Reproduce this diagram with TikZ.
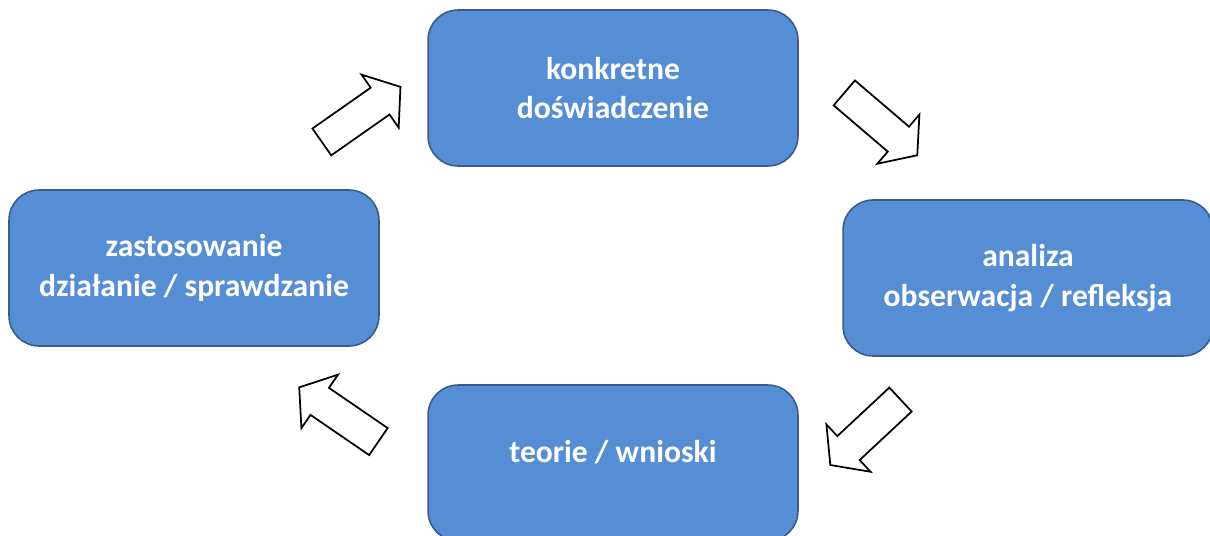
\documentclass[tikz,border=0pt]{standalone}
\usepackage{fontspec}
\setmainfont{Carlito}
\usetikzlibrary{shapes.arrows}

\definecolor{boxblue}{RGB}{85,142,213}
\definecolor{boxline}{RGB}{56,93,138}

\tikzset{
  stage/.style={draw=boxline, line width=0.9pt, fill=boxblue, rounded corners=0.6cm,
    minimum width=7.4cm, minimum height=3.12cm, inner sep=0pt, align=center,
    text=white, font=\fontsize{18}{22.7}\selectfont\bfseries},
  cyclearrow/.style={single arrow, draw=black, line width=1pt, fill=white,
    inner xsep=0pt, inner ysep=0.31cm, minimum height=1.92cm,
    single arrow head extend=0.32cm, single arrow tip angle=105}
}

\begin{document}
\begin{tikzpicture}[x=0.02cm,y=-0.02cm]
    \useasboundingbox (0,0) rectangle (1210,535);

    % the four stages of the cycle
    \node[stage] (konkretne) at (613,88) {konkretne\\doświadczenie};
    \node[stage] (analiza) at (1028,278) {analiza\\obserwacja / refleksja};
    \node[stage, text depth=0.45cm] (teorie) at (613,463) {teorie / wnioski};
    \node[stage] (zastosowanie) at (194,268) {zastosowanie\\działanie / sprawdzanie};

    % block arrows between them, clockwise
    \node[cyclearrow, rotate=35] (toKonkretne) at (356,118) {};
    \node[cyclearrow, rotate=-40.5] (toAnaliza) at (876,120) {};
    \node[cyclearrow, rotate=-137] (toTeorie) at (870,428) {};
    \node[cyclearrow, rotate=145.6] (toZastosowanie) at (344,418) {};

\end{tikzpicture}
\end{document}
